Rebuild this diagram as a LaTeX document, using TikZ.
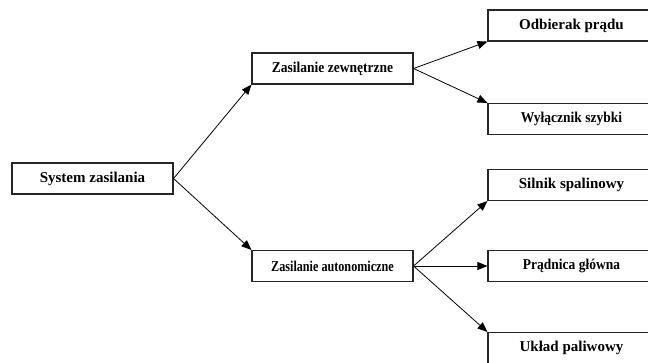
\documentclass[tikz,border=0pt]{standalone}
\usepackage{fontspec}
\setmainfont{Liberation Serif}
\usetikzlibrary{arrows.meta}
\newcommand{\sx}[2]{\scalebox{#1}[1]{#2}}
\begin{document}
\begin{tikzpicture}[x=1pt,y=-1pt,
  box/.style={draw=black!85,line width=1.1pt,rectangle,inner sep=0pt,minimum height=31pt,font=\fontsize{15}{17}\selectfont\bfseries},
  lbox/.style={box,minimum width=161pt},
  rbox/.style={box,minimum width=167pt},
  conn/.style={line width=0.8pt,-{Triangle[length=10pt,width=8pt]}}]
\useasboundingbox (0,0) rectangle (648,362);
\clip (0,0) rectangle (648,362);
\node[lbox] (sys) at (92.5,178.5) {System zasilania};
\node[lbox] (zew) at (332.5,68.5) {\sx{0.9}{Zasilanie zewnętrzne}};
\node[lbox] (aut) at (332.5,266) {\sx{0.81}{Zasilanie autonomiczne}};
\node[rbox] (odb) at (571.5,25.5) {Odbierak prądu};
\node[rbox] (wyl) at (571.5,119) {\sx{0.9}{Wyłącznik szybki}};
\node[rbox] (sil) at (571.5,185) {Silnik spalinowy};
\node[rbox] (pra) at (571.5,266) {\sx{0.9}{Prądnica główna}};
\node[rbox] (ukl) at (571.5,348) {Układ paliwowy};
\draw[conn] (sys.east) -- (zew.south west);
\draw[conn] (sys.east) -- (aut.north west);
\draw[conn] (zew.east) -- (odb.south west);
\draw[conn] (zew.east) -- (wyl.north west);
\draw[conn] (aut.east) -- (sil.south west);
\draw[conn] (aut.east) -- (pra.west);
\draw[conn] (aut.east) -- (ukl.north west);
\end{tikzpicture}
\end{document}
